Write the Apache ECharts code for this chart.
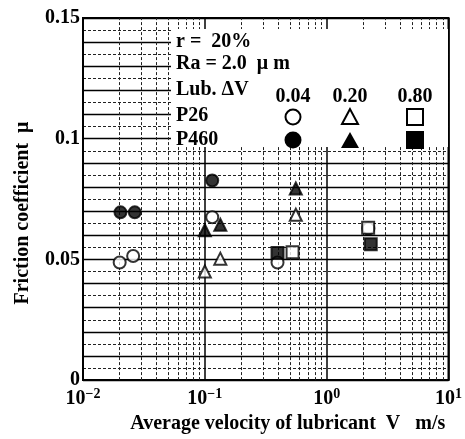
<!DOCTYPE html>
<html>
<head>
<meta charset="utf-8">
<script src="https://cdn.jsdelivr.net/npm/echarts@6/dist/echarts.min.js"></script>
<style>
  html, body { margin: 0; padding: 0; background: #fff; }
  #chart { width: 465px; height: 439px; }
</style>
</head>
<body>
<div id="chart"></div>
<script>
// 数据：[V (m/s), 摩擦系数 μ]
var p26Circle = [[0.020, 0.0487], [0.0258, 0.0514], [0.115, 0.0675], [0.395, 0.0487], [2.2, 0.0628]];
var p26Triangle = [[0.100, 0.0450], [0.134, 0.0503], [0.558, 0.0685]];
var p26Square = [[0.525, 0.0530], [2.19, 0.0631]];
var p460Circle = [[0.0203, 0.0695], [0.0266, 0.0695], [0.115, 0.0827]];
var p460Triangle = [[0.100, 0.0621], [0.134, 0.0644], [0.558, 0.0794]];
var p460Square = [[0.395, 0.0527], [2.30, 0.0563]];

var decades = [0.01, 0.1, 1];
var minorMultiples = [2, 3, 4, 5, 6, 7, 8, 9];
var yLabels = [0, 0.05, 0.1, 0.15];
var legendHeads = ['0.04', '0.20', '0.80'];

var FONT = '"Liberation Serif", "DejaVu Serif", serif';
var TXT = 'bold 20px ' + FONT;

// 对数轴上 2~9 倍的虚线
var minorLines = [];
decades.forEach(function (d) {
  minorMultiples.forEach(function (m) {
    minorLines.push({ xAxis: +(d * m).toPrecision(3) });
  });
});

function mk(name, data, symbol, size, filled) {
  return {
    name: name,
    type: 'scatter',
    data: data,
    symbol: symbol,
    symbolSize: size,
    z: 5,
    itemStyle: {
      color: filled ? '#000' : '#fff',
      borderColor: '#000',
      borderWidth: 2
    }
  };
}

var chart = echarts.init(document.getElementById('chart'));

var series = [
  {
    name: 'minor',
    type: 'scatter',
    data: [],
    silent: true,
    z: 1,
    markLine: {
      silent: true,
      symbol: 'none',
      label: { show: false },
      lineStyle: { color: '#222', width: 1, type: [3, 2] },
      data: minorLines
    }
  },
  mk('P26 0.04', p26Circle, 'circle', 12, false),
  mk('P26 0.20', p26Triangle, 'triangle', 12, false),
  mk('P26 0.80', p26Square, 'rect', 12, false),
  mk('P460 0.04', p460Circle, 'circle', 12, true),
  mk('P460 0.20', p460Triangle, 'triangle', 12, true),
  mk('P460 0.80', p460Square, 'rect', 12, true)
];

// 图例（白底表格），放在上层画布
var colX = [293, 350, 415];
var g = [
  { type: 'rect', shape: { x: 171, y: 29, width: 277, height: 118 }, style: { fill: '#fff' } },
  { type: 'text', left: 176, top: 32, style: { text: 'r =  20%', font: TXT, fill: '#000' } },
  { type: 'text', left: 176, top: 54, style: { text: 'Ra = 2.0  μ m', font: TXT, fill: '#000' } },
  { type: 'text', left: 176, top: 80, style: { text: 'Lub. ΔV', font: TXT, fill: '#000' } },
  { type: 'text', left: 176, top: 106, style: { text: 'P26', font: TXT, fill: '#000' } },
  { type: 'text', left: 176, top: 130, style: { text: 'P460', font: TXT, fill: '#000' } }
];
legendHeads.forEach(function (t, i) {
  g.push({ type: 'text', style: { text: t, x: colX[i], y: 97, align: 'center', verticalAlign: 'middle', font: TXT, fill: '#000' } });
});
// 图例符号
g.push({ type: 'circle', shape: { cx: colX[0], cy: 117, r: 7.5 }, style: { fill: '#fff', stroke: '#000', lineWidth: 2 } });
g.push({ type: 'polygon', shape: { points: [[colX[1], 109], [colX[1] - 8, 124], [colX[1] + 8, 124]] }, style: { fill: '#fff', stroke: '#000', lineWidth: 2 } });
g.push({ type: 'rect', shape: { x: colX[2] - 8, y: 109, width: 16, height: 16 }, style: { fill: '#fff', stroke: '#000', lineWidth: 2 } });
g.push({ type: 'circle', shape: { cx: colX[0], cy: 140, r: 8.5 }, style: { fill: '#000' } });
g.push({ type: 'polygon', shape: { points: [[colX[1], 132], [colX[1] - 9, 148], [colX[1] + 9, 148]] }, style: { fill: '#000' } });
g.push({ type: 'rect', shape: { x: colX[2] - 9, y: 131, width: 18, height: 18 }, style: { fill: '#000' } });
g.forEach(function (el, i) {
  el.zlevel = 1;
  el.z = i === 0 ? 10 : 11;
});

chart.setOption({
  backgroundColor: '#fff',
  animation: false,
  grid: {
    left: 83, right: 15, top: 18, bottom: 54,
    show: true, borderColor: '#000', borderWidth: 2, backgroundColor: 'transparent'
  },
  xAxis: {
    type: 'log',
    logBase: 10,
    min: 0.01,
    max: 10,
    name: 'Average velocity of lubricant  V   m/s',
    nameLocation: 'middle',
    nameGap: 32,
    nameTextStyle: { fontFamily: FONT, fontWeight: 'bold', fontSize: 20, color: '#000', padding: [0, 0, 0, 44] },
    axisLine: { lineStyle: { color: '#000', width: 2 } },
    axisTick: { show: false },
    splitLine: { show: true, lineStyle: { color: '#000', width: 1.5 } },
    axisLabel: {
      margin: 7,
      color: '#000',
      fontFamily: FONT,
      formatter: function (v) {
        var e = Math.round(Math.log(v) / Math.LN10);
        return '{b|10}{s|' + (e < 0 ? '\u2212' + (-e) : e) + '}';
      },
      rich: {
        b: { fontFamily: FONT, fontWeight: 'bold', fontSize: 20, color: '#000' },
        s: { fontFamily: FONT, fontWeight: 'bold', fontSize: 14, color: '#000', padding: [0, 0, 10, 0] }
      }
    }
  },
  yAxis: {
    type: 'value',
    min: 0,
    max: 0.15,
    interval: 0.01,
    name: 'Friction coefficient  μ',
    nameLocation: 'middle',
    nameGap: 50,
    nameTextStyle: { fontFamily: FONT, fontWeight: 'bold', fontSize: 20, color: '#000', padding: [0, 28, 0, 0] },
    axisLine: { lineStyle: { color: '#000', width: 2 } },
    axisTick: { show: true, inside: true, length: 4, lineStyle: { color: '#000' } },
    splitLine: { show: true, lineStyle: { color: '#000', width: 1.3 } },
    minorTick: { show: false, splitNumber: 2 },
    minorSplitLine: { show: true, lineStyle: { color: '#222', width: 1, type: [3, 2] } },
    axisLabel: {
      margin: 3,
      color: '#000',
      fontFamily: FONT,
      fontWeight: 'bold',
      fontSize: 20,
      formatter: function (v) {
        for (var i = 0; i < yLabels.length; i++) {
          if (Math.abs(v - yLabels[i]) < 1e-9) return String(yLabels[i]);
        }
        return '';
      }
    }
  },
  graphic: g,
  series: series
});
</script>
</body>
</html>
